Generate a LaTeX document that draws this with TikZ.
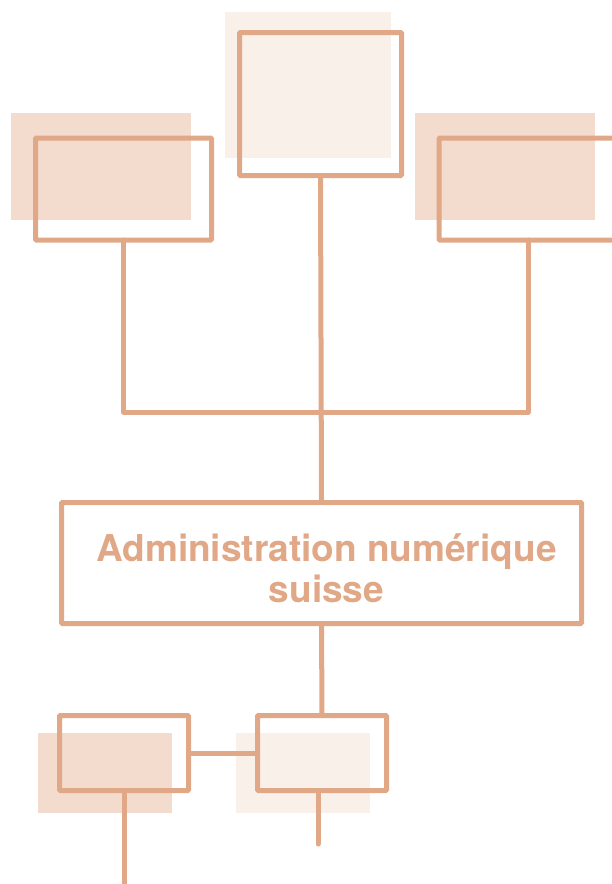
\documentclass[tikz,border=0pt]{standalone}
\usepackage{fontspec}
\setmainfont{TeX Gyre Heros}
\usepackage{tikz}
\usetikzlibrary{positioning,calc}

\definecolor{linecol}{HTML}{E0A887}
\definecolor{shadedark}{HTML}{F3DBCD}
\definecolor{shadelight}{HTML}{FAF0EA}

\tikzset{
    unitbox/.style={draw=linecol, line width=5pt, rounded corners=1pt,
        inner sep=0pt, outer sep=0pt},
    shadebox/.style={inner sep=0pt, outer sep=0pt},
    link/.style={draw=linecol, line width=5pt, line cap=round, line join=round}
}

\begin{document}
\begin{tikzpicture}[x=1pt, y=-1pt]
    % Fix the page to the size of the reference
    \useasboundingbox (0,0) rectangle (612,884);

    % Shaded backgrounds behind the boxes
    \node[shadebox, fill=shadelight, minimum width=166pt, minimum height=146pt] (shtop) at (308,85) {};
    \node[shadebox, fill=shadedark, minimum width=180pt, minimum height=107pt] (shleft) at (101,166.5) {};
    \node[shadebox, fill=shadedark, minimum width=180pt, minimum height=107pt] (shright) at (505,166.5) {};
    \node[shadebox, fill=shadedark, minimum width=134pt, minimum height=80pt] (shlowleft) at (105,773) {};
    \node[shadebox, fill=shadelight, minimum width=134pt, minimum height=80pt] (shlowright) at (303,773) {};

    % Upper row of boxes
    \node[unitbox, minimum width=162pt, minimum height=143pt] (top) at (320.5,104) {};
    \node[unitbox, minimum width=176pt, minimum height=102pt] (left) at (123.5,189) {};
    \node[unitbox, minimum width=178pt, minimum height=102pt] (right) at (528,189) {};

    % The main box
    \node[unitbox, minimum width=520pt, minimum height=121pt, text=linecol,
          align=center, font=\fontsize{37}{41}\selectfont\bfseries] (admin) at (321.5,563)
          {\kern10pt\rule{0pt}{39pt}Administration numérique\\\kern10pt suisse};

    % Lower row of boxes
    \node[unitbox, minimum width=129pt, minimum height=75pt] (lowleft) at (124,753) {};
    \node[unitbox, minimum width=129pt, minimum height=75pt] (lowright) at (322,753) {};

    % Free ends and the junction
    \coordinate (junc) at (321.5,412);
    \coordinate (endleft) at (124,884);
    \coordinate (endright) at (318,844);

    % Connectors
    \draw[link] (left.south) |- (junc) -| (right.south);
    \draw[link] (top.south) -- (admin.north);
    \draw[link] (admin.south) -- (lowright.north);
    \draw[link] (lowleft.east) -- (lowright.west);
    \draw[link] (lowleft.south) -- (endleft);
    \draw[link] ([xshift=-4pt]lowright.south) -- (endright);
\end{tikzpicture}
\end{document}
